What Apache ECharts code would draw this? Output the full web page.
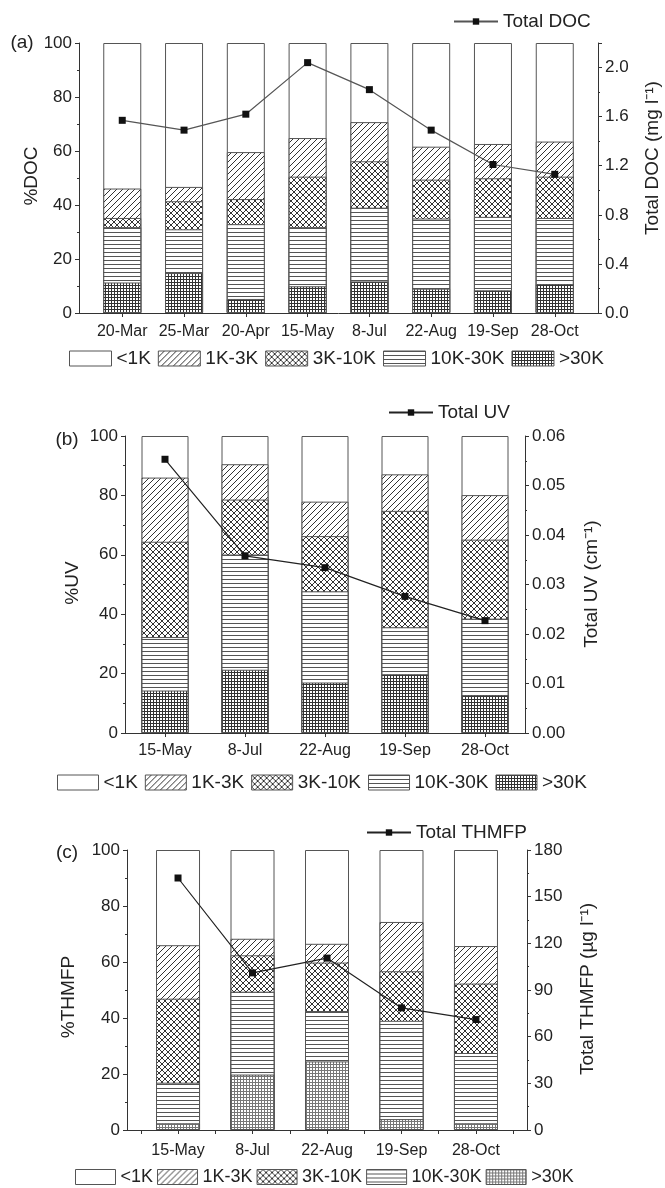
<!DOCTYPE html>
<html>
<head>
<meta charset="utf-8">
<script src="https://cdn.jsdelivr.net/npm/echarts@6.0.0/dist/echarts.min.js"></script>
<style>
  html, body { margin: 0; padding: 0; background: #fff; }
  .panel { position: absolute; left: 0; width: 665px; }
</style>
</head>
<body>
<div id="chartA" class="panel" style="top:0;height:375px"></div>
<div id="chartB" class="panel" style="top:375px;height:425px"></div>
<div id="chartC" class="panel" style="top:800px;height:388px"></div>
<script>
// size classes, top of the bar first
const classNames = ["<1K", "1K-3K", "3K-10K", "10K-30K", ">30K"];

// (a) %DOC
const datesA = ["20-Mar", "25-Mar", "20-Apr", "15-May", "8-Jul", "22-Aug", "19-Sep", "28-Oct"];
const docLt1K = [53.9, 53.3, 40.4, 35.2, 29.3, 38.4, 37.4, 36.5];
const doc1to3K = [10.9, 5.3, 17.4, 14.3, 14.5, 12.2, 12.7, 13.0];
const doc3to10K = [3.4, 10.4, 9.3, 18.7, 17.2, 14.4, 14.3, 15.3];
const doc10to30K = [20.5, 16.2, 27.7, 21.9, 27.3, 26.0, 27.2, 24.5];
const docGt30K = [11.3, 14.8, 5.2, 9.9, 11.7, 9.0, 8.4, 10.7];
const totalDOC = [1.57, 1.49, 1.62, 2.04, 1.82, 1.49, 1.21, 1.13];
const docTicks = [0, 0.4, 0.8, 1.2, 1.6, 2.0];

// (b) %UV
const datesB = ["15-May", "8-Jul", "22-Aug", "19-Sep", "28-Oct"];
const uvLt1K = [14.0, 9.5, 22.1, 12.9, 19.9];
const uv1to3K = [21.6, 11.9, 11.6, 12.3, 15.0];
const uv3to10K = [32.1, 18.5, 18.6, 39.2, 26.6];
const uv10to30K = [18.0, 38.8, 30.7, 15.8, 25.8];
const uvGt30K = [14.3, 21.3, 17.0, 19.8, 12.7];
const totalUV = [0.0553, 0.0358, 0.0334, 0.0276, 0.0227];

// (c) %THMFP
const datesC = ["15-May", "8-Jul", "22-Aug", "19-Sep", "28-Oct"];
const thmLt1K = [34.0, 31.7, 33.5, 25.7, 34.3];
const thm1to3K = [19.1, 5.9, 6.7, 17.6, 13.4];
const thm3to10K = [30.0, 13.0, 17.3, 17.7, 24.8];
const thm10to30K = [14.5, 29.6, 18.0, 35.1, 25.1];
const thmGt30K = [2.4, 19.8, 24.5, 3.9, 2.4];
const totalTHMFP = [162, 101, 110.5, 78.5, 71];

const FONT = "'Liberation Sans', Arial, sans-serif";
const INK = "#222";

// small canvas tiles used as bar fills
function makePattern(kind, color) {
  const cv = document.createElement("canvas");
  const s = kind === "grid" ? 3 : kind === "horiz" ? 4 : 6;
  cv.width = s;
  cv.height = s;
  const ctx = cv.getContext("2d");
  ctx.fillStyle = "#fff";
  ctx.fillRect(0, 0, s, s);
  ctx.strokeStyle = color;
  ctx.lineWidth = 1;
  ctx.beginPath();
  if (kind === "diag" || kind === "cross") {
    ctx.moveTo(0, s); ctx.lineTo(s, 0);
    ctx.moveTo(-1, 1); ctx.lineTo(1, -1);
    ctx.moveTo(s - 1, s + 1); ctx.lineTo(s + 1, s - 1);
  }
  if (kind === "cross") {
    ctx.moveTo(0, 0); ctx.lineTo(s, s);
    ctx.moveTo(-1, s - 1); ctx.lineTo(1, s + 1);
    ctx.moveTo(s - 1, -1); ctx.lineTo(s + 1, 1);
  }
  if (kind === "horiz") {
    ctx.moveTo(0, 0.5); ctx.lineTo(s, 0.5);
  }
  if (kind === "grid") {
    ctx.moveTo(0, 0.5); ctx.lineTo(s, 0.5);
    ctx.moveTo(0.5, 0); ctx.lineTo(0.5, s);
  }
  ctx.stroke();
  return { image: cv, repeat: "repeat" };
}

function axisBase(extra) {
  return Object.assign({
    axisLine: { show: true, onZero: false, lineStyle: { color: "#333", width: 1 } },
    axisTick: { show: true, length: 4, lineStyle: { color: "#333" } },
    minorTick: { show: true, splitNumber: 2, length: 2, lineStyle: { color: "#333" } },
    splitLine: { show: false },
    axisLabel: { color: INK, fontSize: 17, fontFamily: FONT, margin: 7 },
  }, extra);
}

function createChart(el, p) {
  const chart = echarts.init(el);
  const xs = p.dates.map((d, i) => i + 1);
  const shares = p.shares; // same order as classNames
  const fills = [
    "#fff",
    makePattern("diag", "#333"),
    makePattern("cross", "#333"),
    makePattern("horiz", "#555"),
    makePattern("grid", p.gridColor),
  ];

  const series = [];
  // bars overlap: the whole column first, each lower class drawn over it
  classNames.forEach((name, c) => {
    series.push({
      name: name,
      type: "bar",
      barWidth: p.barWidth,
      barGap: "-100%",
      silent: true,
      itemStyle: { color: fills[c], borderColor: "#555", borderWidth: 1 },
      data: xs.map((x, i) => {
        let top = 0;
        for (let k = c; k < shares.length; k++) top += shares[k][i];
        return [x, Math.round(top * 100) / 100];
      }),
    });
  });
  series.push({
    name: p.lineName,
    type: "line",
    yAxisIndex: 1,
    symbol: "rect",
    symbolSize: 7,
    z: 5,
    silent: true,
    lineStyle: { color: p.lineColor, width: 1.2 },
    itemStyle: { color: "#111" },
    data: xs.map((x, i) => [x, p.total[i]]),
  });

  const option = {
    animation: false,
    grid: { left: p.grid[0], top: p.grid[1], width: p.grid[2], height: p.grid[3] },
    xAxis: axisBase({
      type: "value",
      min: p.xMin,
      max: p.xMax,
      minorTick: { show: false },
      axisTick: { show: true, length: 4, lineStyle: { color: "#333" }, customValues: p.xTicks },
      axisLabel: {
        color: INK, fontSize: 16, fontFamily: FONT, margin: p.xLabelMargin,
        customValues: xs,
        formatter: (v) => p.dates[Math.round(v) - 1],
      },
    }),
    yAxis: [
      axisBase({ type: "value", position: "left", min: 0, max: 100, interval: 20 }),
      axisBase({
        type: "value",
        position: "right",
        min: 0,
        max: p.rightMax,
        interval: p.rightInterval,
        axisLabel: {
          color: INK, fontSize: 17, fontFamily: FONT, margin: 7,
          formatter: p.rightFormat,
        },
      }),
    ],
    legend: [
      {
        data: [p.lineName],
        left: p.lineLegend[0],
        top: p.lineLegend[1] - 9,
        padding: 0,
        itemWidth: 44,
        itemHeight: 8,
        selectedMode: false,
        textStyle: { color: INK, fontSize: 19, fontFamily: FONT },
      },
      {
        data: classNames,
        left: p.legend[0],
        top: p.legend[1] - 9,
        padding: 0,
        icon: "rect",
        itemWidth: p.legendBox,
        itemHeight: 15,
        itemGap: p.legendGap,
        selectedMode: false,
        itemStyle: { borderColor: "#555", borderWidth: 1 },
        textStyle: { color: INK, fontSize: p.legendFont, fontFamily: FONT },
      },
    ],
    graphic: [
      {
        type: "text", x: p.tag[0], y: p.tag[1],
        style: { text: p.tagText, fontSize: 19, fontFamily: FONT, fill: INK, align: "center", verticalAlign: "middle" },
      },
      {
        type: "text", x: p.leftTitle[0], y: p.leftTitle[1], rotation: Math.PI / 2,
        style: { text: p.leftTitleText, fontSize: 19, fontFamily: FONT, fill: INK, align: "center", verticalAlign: "middle" },
      },
      {
        type: "text", x: p.rightTitle[0], y: p.rightTitle[1], rotation: Math.PI / 2,
        style: { text: p.rightTitleText, fontSize: 19, fontFamily: FONT, fill: INK, align: "center", verticalAlign: "middle" },
      },
    ],
    series: series,
  };
  chart.setOption(option);
  return chart;
}

createChart(document.getElementById("chartA"), {
  dates: datesA,
  shares: [docLt1K, doc1to3K, doc3to10K, doc10to30K, docGt30K],
  total: totalDOC,
  lineName: "Total DOC",
  lineColor: "#555",
  gridColor: "#333",
  grid: [79, 43, 519, 270],
  xMin: 0.3, xMax: 8.7,
  xTicks: [1, 2, 3, 4, 5, 6, 7, 8],
  xLabelMargin: 11,
  barWidth: 38,
  rightMax: 2.2, rightInterval: 0.4,
  rightFormat: (v) => (docTicks.indexOf(Math.round(v * 10) / 10) < 0 ? "" : v.toFixed(1)),
  lineLegend: [453, 21],
  legend: [69, 358],
  legendBox: 42,
  legendGap: 7,
  legendFont: 19,
  tag: [22, 43], tagText: "(a)",
  leftTitle: [32, 176], leftTitleText: "%DOC",
  rightTitle: [653, 158], rightTitleText: "Total DOC (mg l\u207B\u00B9)",
});

createChart(document.getElementById("chartB"), {
  dates: datesB,
  shares: [uvLt1K, uv1to3K, uv3to10K, uv10to30K, uvGt30K],
  total: totalUV,
  lineName: "Total UV",
  lineColor: "#222",
  gridColor: "#333",
  grid: [125, 61, 400, 297],
  xMin: 0.5, xMax: 5.5,
  xTicks: [1, 2, 3, 4, 5],
  xLabelMargin: 10,
  barWidth: 47,
  rightMax: 0.06, rightInterval: 0.01,
  rightFormat: (v) => v.toFixed(2),
  lineLegend: [388, 37],
  legend: [57, 407],
  legendBox: 41,
  legendGap: 7,
  legendFont: 19,
  tag: [67, 65], tagText: "(b)",
  leftTitle: [73, 208], leftTitleText: "%UV",
  rightTitle: [592, 209], rightTitleText: "Total UV (cm\u207B\u00B9)",
});

createChart(document.getElementById("chartC"), {
  dates: datesC,
  shares: [thmLt1K, thm1to3K, thm3to10K, thm10to30K, thmGt30K],
  total: totalTHMFP,
  lineName: "Total THMFP",
  lineColor: "#222",
  gridColor: "#777",
  grid: [127, 50, 400, 280],
  xMin: 0.315, xMax: 5.685,
  xTicks: [0.5, 1, 1.5, 2, 2.5, 3, 3.5, 4, 4.5, 5, 5.5],
  xLabelMargin: 13,
  barWidth: 44,
  rightMax: 180, rightInterval: 30,
  rightFormat: (v) => String(v),
  lineLegend: [366, 32],
  legend: [75, 377],
  legendBox: 40,
  legendGap: 4,
  legendFont: 18,
  tag: [67, 53], tagText: "(c)",
  leftTitle: [69, 197], leftTitleText: "%THMFP",
  rightTitle: [588, 189], rightTitleText: "Total THMFP (\u00B5g l\u207B\u00B9)",
});
</script>
</body>
</html>
